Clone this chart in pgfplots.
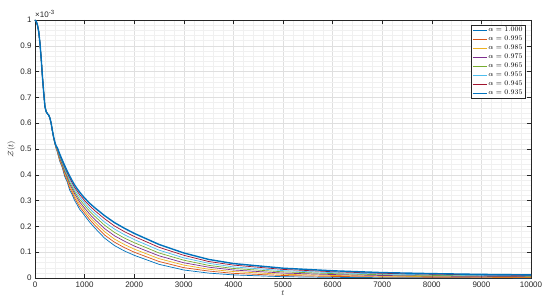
\documentclass[border=0pt]{standalone}
\usepackage[no-math]{fontspec}
\setmainfont{Liberation Sans}
\usepackage{pgfplots}
\pgfplotsset{compat=1.18}
\usepackage{pgfplotstable}
\definecolor{m1}{rgb}{0,0.447,0.741}
\definecolor{m2}{rgb}{0.85,0.325,0.098}
\definecolor{m3}{rgb}{0.929,0.694,0.125}
\definecolor{m4}{rgb}{0.494,0.184,0.556}
\definecolor{m5}{rgb}{0.466,0.674,0.188}
\definecolor{m6}{rgb}{0.301,0.745,0.933}
\definecolor{m7}{rgb}{0.635,0.078,0.184}
\definecolor{axgray}{rgb}{0.15,0.15,0.15}
\pgfplotstableread{
t c0 c1 c2 c3 c4 c5 c6 c7
0 1 1 1 1 1 1 1 1
25 0.995 0.995 0.995 0.995 0.995 0.995 0.995 0.995
50 0.98 0.98 0.98 0.98 0.98 0.98 0.98 0.98
75 0.955 0.955 0.955 0.955 0.955 0.955 0.955 0.955
100 0.91 0.91 0.91 0.91 0.91 0.91 0.91 0.91
125 0.85 0.85 0.85 0.85 0.85 0.85 0.85 0.85
150 0.78 0.78 0.78 0.78 0.78 0.78 0.78 0.78
175 0.72 0.72 0.72 0.72 0.72 0.72 0.72 0.72
200 0.665 0.665 0.665 0.665 0.665 0.665 0.665 0.665
225 0.645 0.645 0.645 0.645 0.645 0.645 0.645 0.645
250 0.637 0.637 0.637 0.637 0.637 0.637 0.637 0.637
275 0.632 0.632 0.632 0.632 0.632 0.632 0.632 0.632
300 0.62 0.62 0.62 0.62 0.62 0.62 0.62 0.62
325 0.60 0.60 0.60 0.60 0.60 0.60 0.60 0.60
350 0.570 0.570 0.571 0.571 0.571 0.571 0.572 0.572
375 0.543 0.544 0.544 0.545 0.545 0.546 0.546 0.547
400 0.521 0.522 0.523 0.524 0.524 0.525 0.526 0.527
425 0.503 0.504 0.506 0.507 0.508 0.509 0.511 0.512
450 0.488 0.490 0.493 0.495 0.498 0.500 0.503 0.505
500 0.452 0.456 0.460 0.464 0.468 0.472 0.476 0.480
550 0.428 0.432 0.436 0.440 0.445 0.449 0.453 0.457
600 0.393 0.399 0.405 0.411 0.417 0.423 0.429 0.435
650 0.372 0.378 0.384 0.390 0.396 0.402 0.408 0.414
700 0.340 0.348 0.356 0.364 0.371 0.379 0.387 0.395
750 0.323 0.331 0.338 0.346 0.354 0.362 0.369 0.377
800 0.300 0.309 0.317 0.326 0.334 0.343 0.351 0.360
850 0.284 0.293 0.302 0.311 0.319 0.328 0.337 0.346
900 0.266 0.276 0.285 0.295 0.304 0.314 0.323 0.333
950 0.255 0.264 0.274 0.283 0.293 0.302 0.312 0.321
1000 0.242 0.252 0.261 0.271 0.281 0.291 0.300 0.310
1100 0.217 0.227 0.238 0.248 0.259 0.269 0.280 0.290
1200 0.195 0.206 0.217 0.228 0.240 0.251 0.262 0.273
1400 0.155 0.167 0.180 0.192 0.205 0.217 0.230 0.242
1600 0.126 0.139 0.151 0.164 0.177 0.190 0.202 0.215
1800 0.105 0.118 0.130 0.143 0.155 0.168 0.180 0.193
2000 0.088 0.100 0.112 0.124 0.137 0.149 0.161 0.173
2500 0.053 0.064 0.075 0.086 0.097 0.108 0.119 0.130
3000 0.031 0.040 0.050 0.059 0.069 0.078 0.088 0.097
3500 0.019 0.027 0.034 0.042 0.049 0.057 0.064 0.072
4000 0.012 0.018 0.025 0.031 0.037 0.043 0.050 0.056
5000 0.005 0.0097 0.0144 0.0191 0.0239 0.0286 0.0333 0.038
6000 0.0025 0.0061 0.0098 0.0134 0.0171 0.0207 0.0243 0.028
7000 0.0013 0.0041 0.0069 0.0097 0.0126 0.0154 0.0182 0.021
8000 0.0008 0.0031 0.0054 0.0077 0.0101 0.0124 0.0147 0.017
9000 0.0005 0.0024 0.0044 0.0063 0.0082 0.0101 0.0121 0.014
10000 0.0003 0.0020 0.0036 0.0053 0.0070 0.0087 0.0103 0.012
}\data
\begin{document}
\begin{tikzpicture}
\path[use as bounding box] (-35pt,-27pt) rectangle (515pt,278pt);
\begin{axis}[
  at={(0,0)}, anchor=south west,
  scale only axis, width=496pt, height=258pt,
  xmin=0, xmax=10000, ymin=0, ymax=1,
  clip=false,
  xtick={0,1000,2000,3000,4000,5000,6000,7000,8000,9000,10000},
  ytick={0,0.1,0.2,0.3,0.4,0.5,0.6,0.7,0.8,0.9,1},
  minor x tick num=4, minor y tick num=4,
  grid=both,
  major grid style={gray!25, line width=0.4pt},
  minor grid style={gray!12, line width=0.3pt},
  tick align=inside,
  major tick length=4pt, minor tick length=0pt,
  axis line style={axgray, line width=0.5pt},
  every tick/.style={axgray, line width=0.5pt},
  tick label style={font=\fontsize{8}{9}\selectfont, text=axgray},
  /pgf/number format/assume math mode=true,
  /pgf/number format/1000 sep={},
  scaled y ticks=false, scaled x ticks=false,
  yticklabel style={/pgf/number format/fixed, /pgf/number format/precision=1},
  xlabel={$t$}, ylabel={$\mathcal{Z}(t)$},
  label style={font=\fontsize{8}{9}\selectfont, text=axgray},
  xlabel style={yshift=3pt},
  ylabel style={yshift=-2pt},
  legend cell align=left,
  legend style={at={(rel axis cs:0.988,0.981)}, anchor=north east,
    font=\fontsize{7.5}{8}\selectfont, draw=axgray, line width=0.4pt,
    fill=white, inner sep=1pt, row sep=0.6pt, nodes={inner sep=1.2pt}},
  legend image code/.code={\draw[#1] (0pt,0pt) -- (14pt,0pt);},
]
\addplot[m1, line width=0.7pt] table[x=t, y=c0] {\data};
\addplot[m2, line width=0.7pt] table[x=t, y=c1] {\data};
\addplot[m3, line width=0.7pt] table[x=t, y=c2] {\data};
\addplot[m4, line width=0.7pt] table[x=t, y=c3] {\data};
\addplot[m5, line width=0.7pt] table[x=t, y=c4] {\data};
\addplot[m6, line width=0.7pt] table[x=t, y=c5] {\data};
\addplot[m7, line width=0.7pt] table[x=t, y=c6] {\data};
\addplot[m1, line width=1.4pt] table[x=t, y=c7] {\data};
\legend{$\alpha=1.000$, $\alpha=0.995$, $\alpha=0.985$, $\alpha=0.975$, $\alpha=0.965$, $\alpha=0.955$, $\alpha=0.945$, $\alpha=0.935$}
\node[anchor=south west, inner sep=0pt, yshift=2pt, font=\fontsize{8}{9}\selectfont, text=axgray] at (rel axis cs:0,1) {×10\textsuperscript{-3}};
\end{axis}
\end{tikzpicture}
\end{document}
